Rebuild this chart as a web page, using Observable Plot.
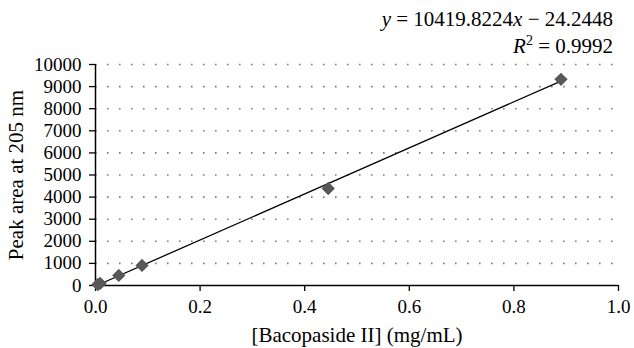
<!DOCTYPE html>
<html>
<head>
<meta charset="utf-8">
<script src="https://cdn.jsdelivr.net/npm/d3@7"></script>
<script src="https://cdn.jsdelivr.net/npm/@observablehq/plot@0.6"></script>
<style>
  html, body { margin: 0; padding: 0; background: #fff; }
  svg { display: block; }
</style>
</head>
<body>
<div id="chart"></div>
<script>
// Data
const concentration = [0.00445, 0.0089, 0.0445, 0.089, 0.445, 0.89]; // mg/mL
const peakArea = [45, 95, 455, 910, 4390, 9330];
const slope = 10419.8224;
const intercept = -24.2448;
const r2 = 0.9992;
const xTicks = [0, 0.2, 0.4, 0.6, 0.8, 1.0];
const yTicks = [0, 1000, 2000, 3000, 4000, 5000, 6000, 7000, 8000, 9000, 10000];
const gridValues = yTicks.slice(1);

const points = concentration.map((c, i) => ({x: c, y: peakArea[i]}));
const xMin = d3.min(concentration), xMax = d3.max(concentration);
const fitLine = [xMin, xMax].map(x => ({x, y: slope * x + intercept}));

const FONT = "Liberation Serif";

function equationMark(index, scales, values, dim) {
  const g = d3.create("svg:g")
    .attr("font-size", 21)
    .attr("fill", "#000")
    .attr("text-anchor", "end");
  const xr = dim.width - dim.marginRight - 5;
  const t1 = g.append("text").attr("x", xr).attr("y", 26);
  t1.append("tspan").attr("font-style", "italic").text("y");
  t1.append("tspan").text(" = " + slope.toFixed(4));
  t1.append("tspan").attr("font-style", "italic").text("x");
  t1.append("tspan").text(" \u2212 " + Math.abs(intercept).toFixed(4));
  const t2 = g.append("text").attr("x", xr).attr("y", 53);
  t2.append("tspan").attr("font-style", "italic").text("R");
  t2.append("tspan").attr("font-size", 14).attr("dy", -8).text("2");
  t2.append("tspan").attr("dy", 8).text(" = " + r2.toFixed(4));
  return g.node();
}

const chart = Plot.plot({
  width: 634,
  height: 348,
  marginLeft: 95,
  marginRight: 16,
  marginTop: 64,
  marginBottom: 63,
  style: {fontSize: "19px", color: "#000", background: "#fff"},
  x: {domain: [0, 1], ticks: xTicks, tickFormat: d3.format(".1f"), label: null},
  y: {domain: [0, 10000], ticks: yTicks, tickFormat: d => String(d), label: null},
  marks: [
    Plot.ruleY(gridValues, {stroke: "#7a7a7a", strokeWidth: 1.6, strokeDasharray: "1.6,10.4"}),
    Plot.axisX({ticks: xTicks, tickFormat: d3.format(".1f"), tickSize: 6, tickPadding: 8, fontSize: 19, stroke: "#000", strokeWidth: 1.3, label: null}),
    Plot.axisY({ticks: yTicks, tickFormat: d => String(d), tickSize: 6, tickPadding: 8, fontSize: 19, stroke: "#000", strokeWidth: 1.3, label: null}),
    Plot.ruleY([0], {stroke: "#000", strokeWidth: 1.5}),
    Plot.ruleX([0], {stroke: "#000", strokeWidth: 1.5}),
    Plot.line(fitLine, {x: "x", y: "y", stroke: "#000", strokeWidth: 1.3}),
    Plot.dot(points, {x: "x", y: "y", symbol: "diamond2", r: 6, fill: "#585858", stroke: "none"}),
    Plot.text(["[Bacopaside II] (mg/mL)"], {frameAnchor: "bottom", dy: 50, lineAnchor: "middle", fontSize: 21, fill: "#000"}),
    Plot.text(["Peak area at 205 nm"], {frameAnchor: "left", dx: -79, rotate: -90, textAnchor: "middle", fontSize: 21, fill: "#000"}),
    equationMark
  ]
});
chart.setAttribute("font-family", FONT);
chart.style.fontFamily = FONT;
d3.select(chart).selectAll("g, text, tspan")
  .attr("font-family", FONT)
  .style("font-family", FONT);
document.getElementById("chart").append(chart);
</script>
</body>
</html>
